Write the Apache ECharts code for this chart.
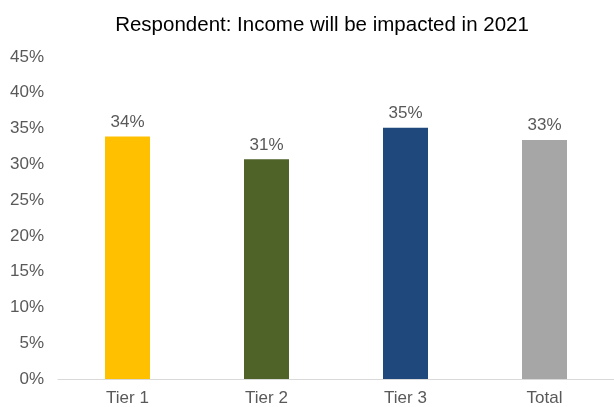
<!DOCTYPE html>
<html><head><meta charset="utf-8">
<script src="https://cdn.jsdelivr.net/npm/echarts@6/dist/echarts.min.js"></script>
<style>html,body{margin:0;padding:0;background:#fff}#c{width:614px;height:407px}</style>
</head><body><div id="c"></div>
<script>
const categories = ['Tier 1', 'Tier 2', 'Tier 3', 'Total'];
const values = [33.9, 30.7, 35.1, 33.4];
const colors = ['#FFC000', '#4F6228', '#1F497D', '#A6A6A6'];
const titleText = 'Respondent: Income will be impacted in 2021';

const chart = echarts.init(document.getElementById('c'), null, {renderer: 'canvas'});
chart.setOption({
  animation: false,
  title: {
    text: titleText, left: 317, top: 10, textAlign: 'center',
    textStyle: {fontFamily: 'Liberation Sans, Arial', fontSize: 20.5, fontWeight: 'normal', color: '#000'}
  },
  grid: {left: 58, right: -6, top: 57, bottom: 27},
  xAxis: {
    type: 'category', data: categories,
    axisLine: {lineStyle: {color: '#D9D9D9'}},
    axisTick: {show: false},
    axisLabel: {fontFamily: 'Liberation Sans, Arial', fontSize: 17, color: '#595959', margin: 11}
  },
  yAxis: {
    type: 'value', min: 0, max: 45, interval: 5,
    splitLine: {show: false},
    axisLine: {show: false}, axisTick: {show: false},
    axisLabel: {fontFamily: 'Liberation Sans, Arial', fontSize: 17, color: '#595959', margin: 14,
      formatter: v => v + '%'}
  },
  series: [{
    type: 'bar', barWidth: 45,
    data: values.map((v, i) => ({value: v, itemStyle: {color: colors[i]}})),
    label: {show: true, position: 'top', distance: 6, fontFamily: 'Liberation Sans, Arial', fontSize: 17, color: '#595959',
      formatter: p => Math.round(p.value) + '%'}
  }]
});
</script></body></html>
